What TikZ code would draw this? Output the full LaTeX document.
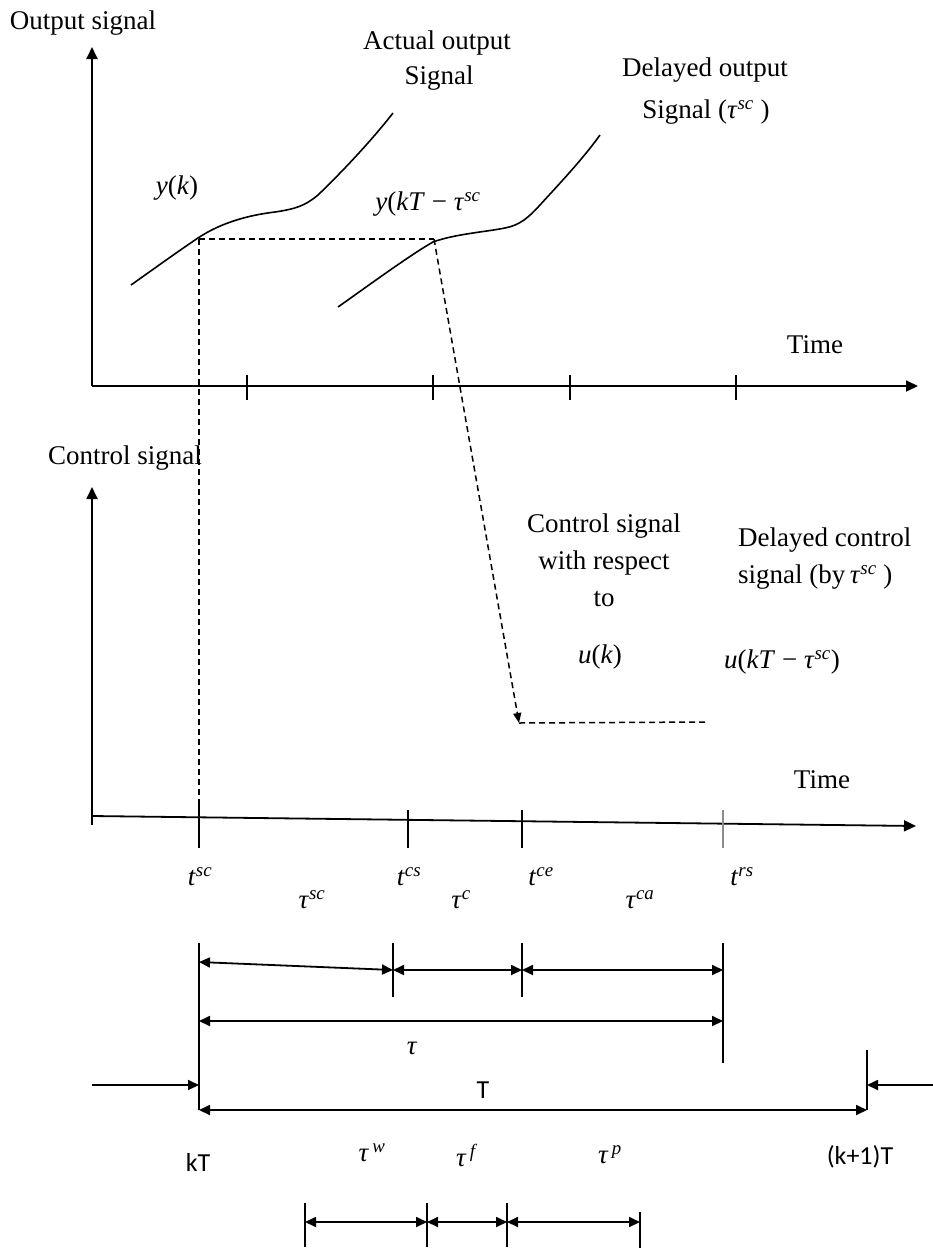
\documentclass[tikz,border=0pt]{standalone}
\usepackage{fontspec}
\setmainfont{Liberation Serif}
\newfontfamily\carl{Carlito}
\usetikzlibrary{arrows.meta}
\begin{document}
\begin{tikzpicture}[x=1pt,y=-1pt,
  lbl/.style={font=\fontsize{27}{37}\selectfont, inner sep=0pt, align=center},
  mlbl/.style={font=\fontsize{27}{30}\selectfont, inner sep=0pt},
  sans/.style={font=\carl\fontsize{26}{30}\selectfont, inner sep=0pt},
  axis/.style={line width=1.8pt, -{Triangle[length=12pt,width=11pt]}},
  tick/.style={line width=1.2pt},
  curve/.style={line width=1.6pt},
  dsh/.style={line width=1.5pt, dash pattern=on 6pt off 4pt},
  ruler/.style={line width=1.5pt},
  dbl/.style={line width=1.8pt, {Triangle[length=11pt,width=10pt]}-{Triangle[length=11pt,width=10pt]}},
  sar/.style={line width=1.8pt, -{Triangle[length=11pt,width=10pt]}}
]
\useasboundingbox (0,0) rectangle (933,1258);

% ---------- top panel ----------
\coordinate (O1) at (92,386);
\coordinate (Y1) at (92,47);
\coordinate (X1) at (918,386);
\draw[axis] (O1) -- (Y1);
\draw[axis] (O1) -- (X1);
\foreach \x in {247,433,570,736} \draw[tick] (\x,375) -- (\x,400);

\node[lbl] (outsig) at (83,23) {Output signal};
\node[lbl] (act1) at (437,43) {Actual output};
\node[lbl] (act2) at (439,78) {Signal};
\node[lbl] (del1) at (705,70) {Delayed output};
\node[lbl] (del2) at (706,112) {Signal (\textit{τ}\textsuperscript{\textit{sc}} )};
\node[mlbl] (yk) at (177,188) {\textit{y}(\textit{k})};
\node[mlbl] (ykt) at (428,204) {\textit{y}(\textit{kT} − \textit{τ}\textsuperscript{\textit{sc}}};
\node[lbl] (time1) at (815,345) {Time};

\draw[curve] (131,285) .. controls (155,268) and (180,250) .. (198,238)
  .. controls (222,222) and (250,215) .. (275,212)
  .. controls (295,209) and (305,206) .. (318,195)
  .. controls (342,172) and (372,140) .. (393,113);
\draw[curve] (338,307) .. controls (365,288) and (410,255) .. (433,242)
  .. controls (455,234) and (485,232) .. (505,228)
  .. controls (520,225) and (528,218) .. (540,205)
  .. controls (560,183) and (582,160) .. (600,135);

\coordinate (P1) at (199,239);
\coordinate (P2) at (434,239);
\coordinate (P3) at (199,806);
\coordinate (U1) at (519,723);
\coordinate (U2) at (708,722);
\draw[dsh] (P1) -- (P2);
\draw[dsh] (P1) -- (P3);
\draw[dsh, -{Triangle[length=10pt,width=8pt]}] (P2) -- (U1);
\draw[dsh] (U1) -- (U2);

% ---------- bottom panel ----------
\coordinate (O2) at (92,816);
\coordinate (O2b) at (92,825);
\coordinate (Y2) at (92,487);
\coordinate (X2) at (916,826);
\draw[axis] (O2b) -- (Y2);
\draw[axis] (O2) -- (X2);
\draw[tick] (199,805) -- (199,848);
\draw[tick] (408,810) -- (408,848);
\draw[tick] (522,810) -- (522,848);
\draw[tick, black!45] (723,810) -- (723,848);

\node[lbl] (ctl) at (125,458) {Control signal};
\node[lbl] (cws) at (604,560) {Control signal\\with respect\\to};
\node[lbl, align=left, anchor=west] (dcs) at (738,559) {Delayed control\\signal (by\,\textit{τ}\textsuperscript{\textit{sc}} )};
\node[mlbl] (uk) at (600,657) {\textit{u}(\textit{k})};
\node[mlbl] (ukt) at (782,662) {\textit{u}(\textit{kT} − \textit{τ}\textsuperscript{\textit{sc}})};
\node[lbl] (time2) at (822,780) {Time};

\node[mlbl] (tsc) at (200,877) {\textit{t}\textsuperscript{\textit{sc}}};
\node[mlbl] (tcs) at (409,877) {\textit{t}\textsuperscript{\textit{cs}}};
\node[mlbl] (tce) at (541,877) {\textit{t}\textsuperscript{\textit{ce}}};
\node[mlbl] (trs) at (742,877) {\textit{t}\textsuperscript{\textit{rs}}};
\node[mlbl] (tausc) at (312,900) {\textit{τ}\textsuperscript{\textit{sc}}};
\node[mlbl] (tauc) at (461,900) {\textit{τ}\textsuperscript{\textit{c}}};
\node[mlbl] (tauca) at (640,900) {\textit{τ}\textsuperscript{\textit{ca}}};

% ---------- rulers ----------
\coordinate (A0t) at (199,943); \coordinate (A0b) at (199,1110);
\coordinate (A1t) at (393,943); \coordinate (A1b) at (393,997);
\coordinate (A2t) at (522,943); \coordinate (A2b) at (522,997);
\coordinate (A3t) at (723,943); \coordinate (A3b) at (723,1063);
\coordinate (A4t) at (867,1050); \coordinate (A4b) at (867,1110);
\draw[ruler] (A0t) -- (A0b);
\draw[ruler] (A1t) -- (A1b);
\draw[ruler] (A2t) -- (A2b);
\draw[ruler] (A3t) -- (A3b);
\draw[ruler] (A4t) -- (A4b);

\coordinate (R1a) at (199,962); \coordinate (R1b) at (393,970);
\coordinate (R2a) at (393,970); \coordinate (R2b) at (522,970);
\coordinate (R3a) at (522,970); \coordinate (R3b) at (723,970);
\draw[dbl] (R1a) -- (R1b);
\draw[dbl] (R2a) -- (R2b);
\draw[dbl] (R3a) -- (R3b);

\coordinate (Ta) at (199,1021); \coordinate (Tb) at (723,1021);
\draw[dbl] (Ta) -- (Tb);
\node[mlbl] (tau) at (412,1048) {\textit{τ}};

\coordinate (L0) at (92,1085); \coordinate (L1) at (199,1085);
\coordinate (M0) at (933,1085); \coordinate (M1) at (867,1085);
\draw[sar] (L0) -- (L1);
\draw[sar] (M0) -- (M1);
\coordinate (Pa) at (199,1110); \coordinate (Pb) at (867,1110);
\draw[dbl] (Pa) -- (Pb);
\node[sans] (Tl) at (483,1090) {T};
\node[sans] (kT) at (198,1162) {kT};
\node[sans] (k1T) at (860,1157) {(k+1)T};
\node[mlbl] (tauw) at (372,1153) {\textit{τ}\textsuperscript{\,\textit{w}}};
\node[mlbl] (tauf) at (467,1155) {\textit{τ}\textsuperscript{\,\textit{f}}};
\node[mlbl] (taup) at (610,1155) {\textit{τ}\textsuperscript{\,\textit{p}}};

\coordinate (B0t) at (305,1203); \coordinate (B0b) at (305,1247);
\coordinate (B1t) at (427,1203); \coordinate (B1b) at (427,1247);
\coordinate (B2t) at (507,1203); \coordinate (B2b) at (507,1247);
\coordinate (B3t) at (640,1212); \coordinate (B3b) at (640,1248);
\draw[ruler] (B0t) -- (B0b);
\draw[ruler] (B1t) -- (B1b);
\draw[ruler] (B2t) -- (B2b);
\draw[ruler] (B3t) -- (B3b);
\coordinate (S0) at (305,1222); \coordinate (S1) at (427,1222);
\coordinate (S2) at (507,1222); \coordinate (S3) at (640,1222);
\draw[dbl] (S0) -- (S1);
\draw[dbl] (S1) -- (S2);
\draw[dbl] (S2) -- (S3);
\end{tikzpicture}
\end{document}
